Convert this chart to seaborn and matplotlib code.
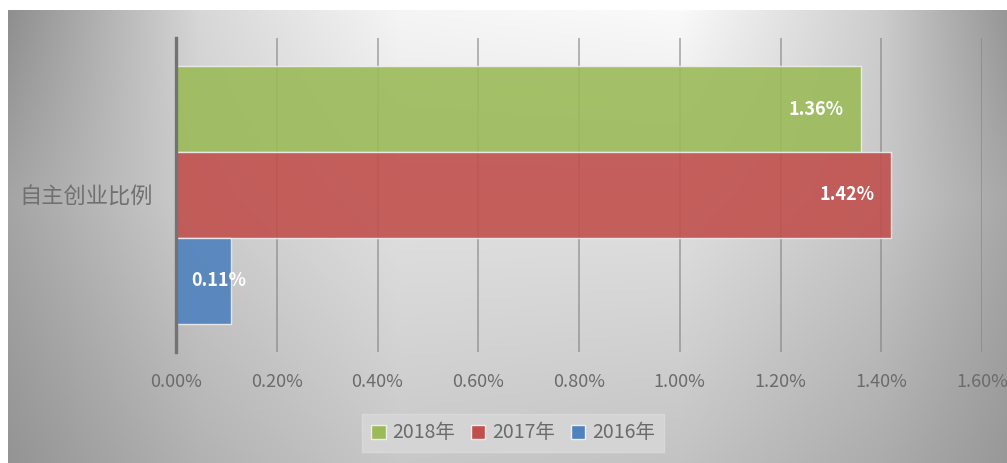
import numpy as np
import pandas as pd
import matplotlib
matplotlib.use("Agg")
import matplotlib.pyplot as plt
from matplotlib.ticker import PercentFormatter, MultipleLocator
from matplotlib.patches import Patch
import seaborn as sns

# ---- dados ----
categoria = ["自主创业比例"]
anos = ["2018年", "2017年", "2016年"]
valores = [0.0136, 0.0142, 0.0011]
rotulos = ["1.36%", "1.42%", "0.11%"]
cores = ["#9BBB59", "#C0504D", "#4F81BD"]

df = pd.DataFrame({"cat": categoria * len(anos), "ano": anos, "valor": valores})

sns.set_theme(style="white")
plt.rcParams["font.family"] = ["Noto Sans CJK SC", "DejaVu Sans"]

W, H = 1007, 463
fig = plt.figure(figsize=(W / 100, H / 100), dpi=100)
fig.patch.set_facecolor("#ffffff")

# fundo com gradiente cinza (amostrado da imagem, interpolado)
x0, y0 = 8, 10
gx = [8, 200, 400, 680, 880, 1007]
gy = [10, 200, 463]
G = np.array([[142, 215, 245, 250, 205, 150],
              [165, 205, 225, 225, 200, 168],
              [148, 178, 200, 195, 172, 152]], dtype=float)
xs = np.arange(x0, W) + 0.5
ys = np.arange(y0, H) + 0.5
linhas = np.array([np.interp(xs, gx, g) for g in G])
img = np.empty((len(ys), len(xs)))
for j in range(len(xs)):
    img[:, j] = np.interp(ys, gy, linhas[:, j])
v = img / 255
bg = fig.add_axes([x0 / W, 0, 1 - x0 / W, 1 - y0 / H], zorder=-10)
bg.imshow(np.dstack([v, v, v]), aspect="auto", interpolation="bilinear")
bg.axis("off")

ax = fig.add_axes([176 / W, 1 - 352 / H, (982 - 176) / W, (352 - 38) / H])
ax.set_facecolor("none")

sns.barplot(data=df, y="cat", x="valor", hue="ano", hue_order=anos, palette=cores,
            orient="h", saturation=1, alpha=0.9, edgecolor="#eeeeee", linewidth=1,
            width=0.8, ax=ax, zorder=3)

ax.set_xlim(0, 0.016)
ax.set_ylim(0.487, -0.487)
ax.xaxis.set_major_locator(MultipleLocator(0.002))
ax.xaxis.set_major_formatter(PercentFormatter(xmax=1, decimals=2))
ax.grid(axis="x", color="#808080", alpha=0.6, linewidth=1.3, zorder=0)
ax.set_axisbelow(True)
for s in ["top", "right", "bottom"]:
    ax.spines[s].set_visible(False)
ax.spines["left"].set_color("#737373")
ax.spines["left"].set_linewidth(2.4)
ax.spines["left"].set_zorder(5)
ax.tick_params(axis="x", length=0, pad=15, labelsize=13, labelcolor="#6b6b6b")
ax.tick_params(axis="y", length=0, pad=17, labelsize=16, labelcolor="#707070")
ax.set_xlabel("")
ax.set_ylabel("")

# rótulos das barras (dentro do fim da barra)
for barra, rot in zip(ax.patches, rotulos):
    yc = barra.get_y() + barra.get_height() / 2
    w = barra.get_width()
    if w > 0.003:
        ax.annotate(rot, (w, yc), xytext=(-17, 0), textcoords="offset pixels",
                    ha="right", va="center", color="white", fontsize=13,
                    fontweight="bold", zorder=6)
    else:
        ax.annotate(rot, (0, yc), xytext=(15, 0), textcoords="offset pixels",
                    ha="left", va="center", color="white", fontsize=13,
                    fontweight="bold", zorder=6)

ax.legend_.remove()
handles = [Patch(facecolor=c, edgecolor="#eeeeee") for c in cores]
leg = fig.legend(handles, anos, loc="center", bbox_to_anchor=(513 / W, 1 - 433 / H),
                 ncol=3, frameon=True, fontsize=14, handlelength=0.75, handleheight=0.75,
                 handletextpad=0.35, columnspacing=0.8, borderpad=0.45)
leg.get_frame().set_facecolor("#d6d6d6")
leg.get_frame().set_edgecolor("#dadada")
leg.get_frame().set_alpha(0.9)
leg.get_frame().set_boxstyle("square", pad=0)
for t in leg.get_texts():
    t.set_color("#6b6b6b")

plt.savefig("out.png", dpi=100)
